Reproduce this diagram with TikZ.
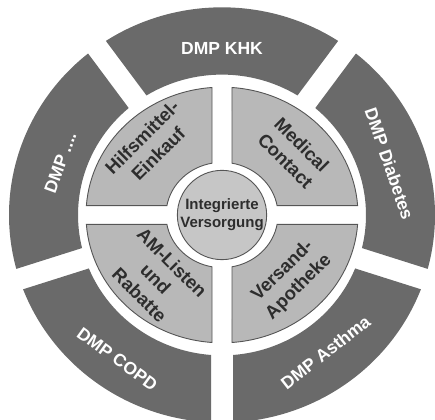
\documentclass[tikz,border=0pt]{standalone}
\usepackage{fontspec}
\setmainfont{Liberation Sans}
\definecolor{cinzaescuro}{RGB}{106,106,106}
\definecolor{cinzaclaro}{RGB}{184,184,184}
\definecolor{cinzacentro}{RGB}{198,198,198}
\definecolor{contorno}{RGB}{85,85,85}
\definecolor{texto}{RGB}{45,45,45}

\begin{document}
\begin{tikzpicture}[x=1pt,y=1pt,
    externo/.style={fill=cinzaescuro},
    quadrante/.style={fill=cinzaclaro, draw=contorno, line width=0.9pt},
    rotuloext/.style={text=white, font=\fontsize{17.5}{20}\selectfont\bfseries, align=center},
    rotuloint/.style={text=texto, font=\fontsize{18.5}{23}\selectfont\bfseries, align=center}]

    \useasboundingbox (-222,-204) rectangle (213,215);
    \clip (-222,-204) rectangle (213,215);

    \def\g{10}  % meia largura das faixas brancas (quadrantes)
    \def\G{11}  % meia largura das faixas brancas (anel externo)
    \def\Ra{213} \def\ra{144} % anel externo
    \def\Rb{136} \def\rb{56}  % quadrantes

    % Anel externo: cinco segmentos de 72 graus
    \begin{scope}[yscale=0.975]
    \foreach \a in {-18,54,126,198,270} {
        \pgfmathsetmacro{\dA}{asin(\G/\Ra)}
        \pgfmathsetmacro{\da}{asin(\G/\ra)}
        \fill[externo] ({\a+\dA}:\Ra) arc[start angle={\a+\dA}, end angle={\a+72-\dA}, radius=\Ra]
            -- ({\a+72-\da}:\ra) arc[start angle={\a+72-\da}, end angle={\a+\da}, radius=\ra] -- cycle;
    }
    \end{scope}

    % Quadrantes
    \begin{scope}[yscale=0.94]
    \foreach \r in {0,90,180,270} {
        \pgfmathsetmacro{\dB}{asin(\g/\Rb)}
        \pgfmathsetmacro{\db}{asin(\g/\rb)}
        \draw[quadrante] ({\r+\dB}:\Rb) arc[start angle={\r+\dB}, end angle={\r+90-\dB}, radius=\Rb]
            -- ({\r+90-\db}:\rb) arc[start angle={\r+90-\db}, end angle={\r+\db}, radius=\rb] -- cycle;
    }
    \end{scope}

    % Centro
    \node[circle, minimum size=88pt, inner sep=0pt, fill=cinzacentro, draw=contorno, line width=0.9pt,
        text=texto, font=\fontsize{15}{18}\selectfont\bfseries, align=center] (centro) at (0,0)
        {Integrierte\\Versorgung};

    % Rótulos do anel externo
    \node[rotuloext] (khk) at (90:167) {DMP KHK};
    \node[rotuloext, rotate=-71] (diabetes) at (17:175) {DMP Diabetes};
    \node[rotuloext, rotate=38] (asthma) at (-53:172) {DMP Asthma};
    \node[rotuloext, rotate=-36] (copd) at (234:178) {DMP COPD};
    \node[rotuloext, rotate=70] (outros) at (162:170) {DMP ....};

    % Rótulos dos quadrantes
    \node[rotuloint, rotate=45] (hilfsmittel) at (136:100) {Hilfsmittel-\\Einkauf};
    \node[rotuloint, rotate=-45] (medical) at (41:95) {Medical\\Contact};
    \node[rotuloint, rotate=-45] (amlisten) at (224:92) {AM-Listen\\und\\Rabatte};
    \node[rotuloint, rotate=45] (versand) at (-43:94) {Versand-\\Apotheke};

\end{tikzpicture}
\end{document}
